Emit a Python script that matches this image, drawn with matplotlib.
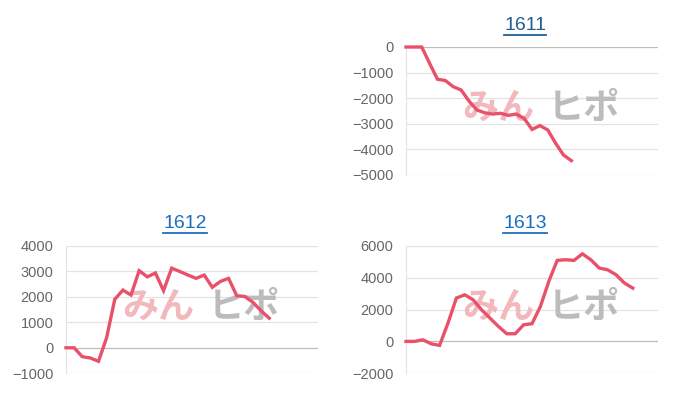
import numpy as np
import matplotlib
matplotlib.use("Agg")
import matplotlib.pyplot as plt
from matplotlib.lines import Line2D

plt.rcParams['font.family'] = ['Liberation Sans', 'DejaVu Sans']

# giá trị từng máy
names = ["1611", "1612", "1613"]
v1611 = [0, 0, 0, -640, -1260, -1310, -1550, -1680, -2110, -2460, -2570,
         -2620, -2590, -2670, -2620, -2790, -3220, -3070, -3240, -3760,
         -4220, -4440]
v1612 = [0, 0, -350, -400, -530, 400, 1900, 2260, 2070, 3020, 2780, 2930,
         2240, 3120, 2990, 2850, 2720, 2850, 2370, 2600, 2720, 2040, 2010,
         1780, 1450, 1160]
v1613 = [0, 0, 100, -150, -250, 1150, 2720, 2920, 2610, 1980, 1460, 940,
         480, 480, 1040, 1110, 2190, 3760, 5080, 5120, 5080, 5490, 5120,
         4600, 4490, 4180, 3660, 3340]
so_nhan = [33, 32, 31]
yticks = [np.arange(-5000, 1, 1000), np.arange(-1000, 4001, 1000),
          np.arange(-2000, 6001, 2000)]
mau_tieu_de = ["#245e90", "#1a6ec0", "#1a6ec0"]

W, H = 700, 400
fig = plt.figure(figsize=(7, 4), dpi=100)

# vị trí: (trái, trên, phải, dưới) theo pixel, tâm tiêu đề
khung = [(406, 47, 658, 175), (66, 245.7, 318, 373.3), (406, 245.7, 658, 373.3)]
tieu_de = [(525, 25), (185, 223.5), (525, 223.5)]

texts = []
for k, vals in enumerate([v1611, v1612, v1613]):
    l, t, r, b = khung[k]
    ax = fig.add_axes([l / W, 1 - b / H, (r - l) / W, (b - t) / H])
    ax.plot(np.arange(len(vals)), vals, color="#e9516b", lw=2.4,
            solid_joinstyle="miter", clip_on=False, zorder=5)
    ax.set_xlim(0, so_nhan[k] - 1)
    ax.set_ylim(yticks[k][0], yticks[k][-1])
    ax.set_yticks(yticks[k])
    ax.set_xticks([])
    for y in yticks[k]:
        ax.axhline(y, color="#bdbdbd" if y == 0 else "#e3e3e3", lw=0.9, zorder=1)
    for s in ["top", "right", "bottom"]:
        ax.spines[s].set_visible(False)
    ax.spines["left"].set_color("#e3e3e3")
    ax.tick_params(axis="y", length=0, pad=9, labelsize=10.5, labelcolor="#666666")
    ax.text(0.365, 0.52, "みん", transform=ax.transAxes, ha="center", va="center",
            fontsize=26, fontweight="bold", color="#f2b8bd",
            family=["Noto Sans CJK JP"], zorder=2)
    ax.text(0.705, 0.52, "ヒポ", transform=ax.transAxes, ha="center", va="center",
            fontsize=26, fontweight="bold", color="#bcbcbc",
            family=["Noto Sans CJK JP"], zorder=2)
    cx, cy = tieu_de[k]
    tt = fig.text(cx / W, 1 - cy / H, names[k], ha="center", va="center",
                  fontsize=14, color=mau_tieu_de[k])
    texts.append(tt)

fig.canvas.draw()
r = fig.canvas.get_renderer()
for tt in texts:
    bb = tt.get_window_extent(r)
    yy = bb.y0 - 1
    fig.add_artist(Line2D([bb.x0 / W, bb.x1 / W], [yy / H, yy / H],
                          transform=fig.transFigure, color=tt.get_color(), lw=1.3))

fig.savefig("out.png", dpi=100)
